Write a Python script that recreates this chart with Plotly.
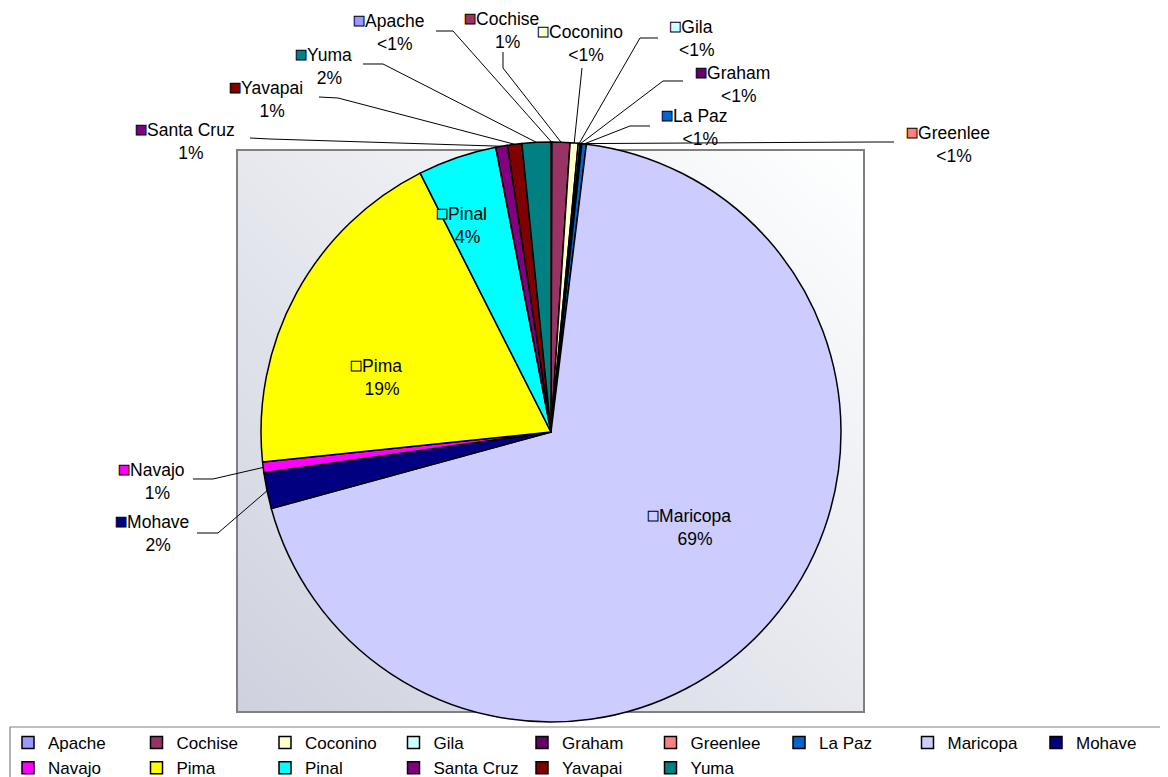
import numpy as np
import plotly.graph_objects as go

# ---------------- data ----------------
counties = ["Apache", "Cochise", "Coconino", "Gila", "Graham", "Greenlee", "La Paz",
            "Maricopa", "Mohave", "Navajo", "Pima", "Pinal", "Santa Cruz", "Yavapai", "Yuma"]
shares = [0.05, 1.0, 0.45, 0.1, 0.06, 0.04, 0.25,
          68.8, 2.0, 0.6, 19.2, 4.4, 0.65, 0.8, 1.6]
colors = ["#9999FF", "#993366", "#FFFFCC", "#CCFFFF", "#660066", "#FF8080", "#0066CC",
          "#CCCCFF", "#000080", "#FF00FF", "#FFFF00", "#00FFFF", "#800080", "#800000", "#008080"]

# ---------------- layout constants (page pixels, top-left origin) ----------------
W, H = 1168, 777
OFF = 8            # page body margin around the plot div
LEG_TOP = 725      # page y of the legend's top
MB = H - (LEG_TOP - OFF)   # bottom margin: legend sits below the plot area
PH = H - MB
CX, CY, R = 551, 432, 290
BOX = (237, 150, 864, 712)  # x0, y0(top), x1, y1(bottom)
FONT = "Liberation Sans, Arial, DejaVu Sans, sans-serif"

# label block centres and leader line start/elbow points
label_pos = {
    "Apache": (388, 31, [(436, 31), (453, 31)]),
    "Cochise": (501, 29, [(503, 52), (503, 68)]),
    "Coconino": (580, 43, [(582, 68)]),
    "Gila": (691, 37, [(658, 38), (640, 38)]),
    "Graham": (732, 83, [(683, 81), (663, 81)]),
    "La Paz": (694, 127, [(650, 126), (630, 126)]),
    "Greenlee": (948, 143, [(894, 142), (873, 142)]),
    "Santa Cruz": (185, 140, [(250, 138), (270, 139)]),
    "Yavapai": (266, 98, [(319, 97), (338, 98)]),
    "Yuma": (323, 65, [(363, 64), (383, 64)]),
    "Navajo": (151, 480, [(193, 479), (213, 479)]),
    "Mohave": (152, 532, [(197, 533), (218, 533)]),
    "Pinal": (461, 225, None),
    "Pima": (376, 376, None),
    "Maricopa": (689, 526, None),
}


def px(x):
    return (x - OFF) / W


def py(y):
    return 1 - (y - OFF) / PH


total = sum(shares)
pcts = [s / total * 100 for s in shares]
pct_text = ["<1%" if p < 0.5 else f"{round(p)}%" for p in pcts]

fig = go.Figure()
fig.add_trace(go.Pie(
    labels=counties, values=shares, sort=False, direction="clockwise", rotation=0,
    marker=dict(colors=colors, line=dict(color="black", width=1.5)),
    textinfo="none", hoverinfo="label+percent",
    domain=dict(x=[px(CX - R), px(CX + R)], y=[py(CY + R), py(CY - R)]),
))

shapes = []

# ---- plot-area box with diagonal gradient ----
bx0, by0, bx1, by1 = BOX


def s_of(p):
    return (p[0] - bx0) / (bx1 - bx0) + (by1 - p[1]) / (by1 - by0)


def clip(poly, f):
    out = []
    n = len(poly)
    for i in range(n):
        p, q = poly[i], poly[(i + 1) % n]
        fp, fq = f(p), f(q)
        if fp >= 0:
            out.append(p)
        if (fp >= 0) != (fq >= 0):
            t = fp / (fp - fq)
            out.append((p[0] + t * (q[0] - p[0]), p[1] + t * (q[1] - p[1])))
    return out


c_dark = np.array([206, 210, 222])
c_light = np.array([255, 255, 255])
N = 48
rect = [(bx0, by0), (bx1, by0), (bx1, by1), (bx0, by1)]
for k in range(N):
    a = 2 * k / N
    b = 2 * (k + 1) / N + 0.01
    poly = clip(rect, lambda p, a=a: s_of(p) - a)
    poly = clip(poly, lambda p, b=b: b - s_of(p))
    if len(poly) < 3:
        continue
    t = (k + 0.5) / N
    c = (c_dark + (c_light - c_dark) * t).round().astype(int)
    path = "M " + " L ".join(f"{px(x):.5f},{py(y):.5f}" for x, y in poly) + " Z"
    shapes.append(dict(type="path", xref="paper", yref="paper", path=path,
                       fillcolor=f"rgb({c[0]},{c[1]},{c[2]})", line=dict(width=0), layer="below"))
shapes.append(dict(type="rect", xref="paper", yref="paper",
                   x0=px(bx0), x1=px(bx1), y0=py(by1), y1=py(by0),
                   line=dict(color="#808080", width=2), fillcolor="rgba(0,0,0,0)", layer="below"))

# ---- legend frame ----
shapes.append(dict(type="rect", xref="paper", yref="paper",
                   x0=px(10), x1=px(1190), y0=py(800), y1=py(727),
                   line=dict(color="#808080", width=1.2), fillcolor="white", layer="below"))

# ---- leader lines (end point = slice mid-angle on the pie rim) ----
cum = np.cumsum([0] + shares)
annotations = []
for i, name in enumerate(counties):
    lx, ly, pts = label_pos[name]
    if pts is not None:
        mid = (cum[i] + cum[i + 1]) / 2 / total * 2 * np.pi
        ex, ey = CX + R * np.sin(mid), CY - R * np.cos(mid)
        allp = pts + [(ex, ey)]
        path = "M " + " L ".join(f"{px(x):.5f},{py(y):.5f}" for x, y in allp)
        shapes.append(dict(type="path", xref="paper", yref="paper", path=path,
                           line=dict(color="black", width=1)))
    clear = "rgba(0,0,0,0)"
    key = (f"<span style='color:{colors[i]};stroke:black;stroke-width:1px;"
           f"font-size:20px'>■</span>")
    ghost = (f"<span style='color:{clear};font-size:20px'>■</span>")
    txt = f"{key}{name}<br>{ghost}{pct_text[i]}"
    annotations.append(dict(x=px(lx), y=py(ly), xref="paper", yref="paper",
                            text=txt, showarrow=False, xanchor="center", yanchor="middle",
                            align="center", font=dict(family=FONT, size=17.5, color="black")))

fig.update_layout(
    width=W, height=H,
    margin=dict(l=0, r=0, t=0, b=MB, pad=0, autoexpand=False),
    paper_bgcolor="white", plot_bgcolor="white",
    font=dict(family=FONT, color="black"),
    shapes=shapes, annotations=annotations,
    showlegend=True,
    legend=dict(orientation="h", x=0, xanchor="left", y=0, yanchor="top",
                bgcolor="rgba(0,0,0,0)", borderwidth=0,
                font=dict(family=FONT, size=17, color="black"),
                entrywidth=83.5, entrywidthmode="pixels", traceorder="normal"),
)

fig.write_html("out.html")
